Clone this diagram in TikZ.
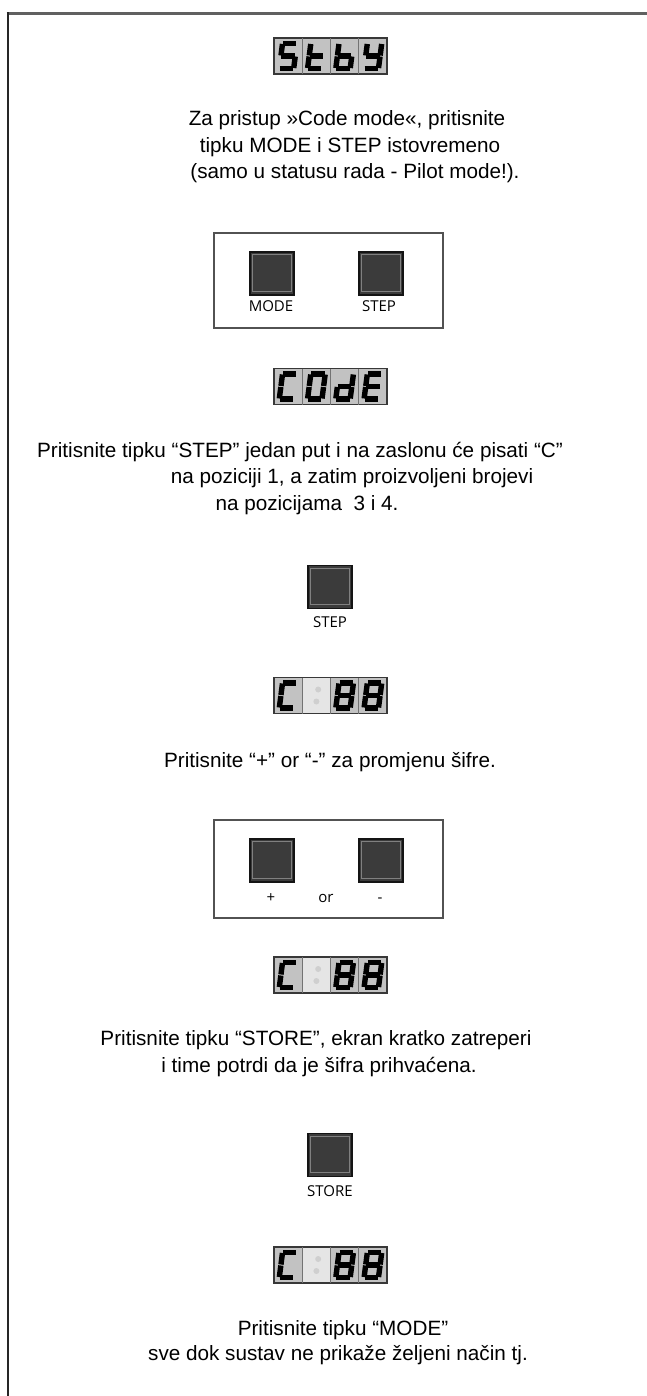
\documentclass[tikz,border=0pt]{standalone}
\usepackage{fontspec}
\setmainfont{Liberation Sans}
\newfontfamily\lblfont{Open Sans}
\def\sga{(-7.2,-12.5)--(7.2,-12.5)}
\def\sgb{(7.2,-12.5)--(7.2,0)}
\def\sgc{(7.2,0)--(7.2,12.5)}
\def\sgd{(-7.2,12.5)--(7.2,12.5)}
\def\sge{(-7.2,0)--(-7.2,12.5)}
\def\sgf{(-7.2,-12.5)--(-7.2,0)}
\def\sgg{(-7.2,0)--(7.2,0)}
\newcommand\lcdigit[3]{%
  \if\relax\detokenize{#3}\relax\else
  \begin{scope}[shift={(#1,#2)}, xslant=0.13]
    \foreach \s in {#3}{\edef\segp{\csname sg\s\endcsname}\draw[seg] \segp;}
  \end{scope}\fi}
\newcommand\lcd[6]{%
  \node[lcdbox] (#1) at (330.5,#2) {};
  \foreach \i in {1,2,3} {\draw[lcdcell] (274+\i*28.25,#2-18) -- (274+\i*28.25,#2+18);}
  \lcdigit{288.1}{#2}{#3}%
  \lcdigit{316.4}{#2}{#4}%
  \lcdigit{344.6}{#2}{#5}%
  \lcdigit{372.9}{#2}{#6}}
\newcommand\ghostcell[1]{%
  \fill[gray!20] (303,#1-17.2) rectangle (329.7,#1+17.2);
  \fill[gray!38] (318.2,#1-6) circle (3pt);
  \fill[gray!38] (316.4,#1+6) circle (3pt);}
\begin{document}
\begin{tikzpicture}[x=1pt,y=-1pt,
  txt/.style={inner sep=0pt, text height=15pt, text depth=4.5pt, font=\fontsize{20.7}{25}\selectfont},
  lbl/.style={inner sep=0pt, text height=11pt, text depth=3pt, font=\lblfont\fontsize{15}{18}\selectfont},
  btn/.style={draw=black!92, fill=black!77, line width=1.4pt, minimum width=44pt, minimum height=43pt, inner sep=0pt,
    path picture={\draw[black!50, line width=0.7pt] ([shift={(2.6pt,-2.6pt)}]path picture bounding box.north west) rectangle ([shift={(-2.6pt,4pt)}]path picture bounding box.south east);}},
  panel/.style={draw=black!68, line width=2.2pt, minimum width=229pt, minimum height=95pt, inner sep=0pt},
  lcdbox/.style={draw=black!78, line width=1.6pt, fill=gray!48, minimum width=113pt, minimum height=36pt, inner sep=0pt},
  lcdcell/.style={draw=black!55, line width=0.8pt},
  seg/.style={line width=5.4pt, line cap=butt, shorten >=0.5pt, shorten <=0.5pt, black}
]
\useasboundingbox (0,0) rectangle (647,1396);
\fill[white] (0,0) rectangle (647,1396);
% frame
\draw[line width=3pt, gray!75!black] (6.5,14) -- (647,14);
\draw[line width=2.5pt, black!85] (8,12.5) -- (8,1396);

% displays
\lcd{d1}{56}{a,f,g,c,d}{f,e,d,g}{f,e,d,c,g}{f,b,g,c,d}
\node[txt] (t1) at (347,120) {Za pristup »Code mode«, pritisnite};
\node[txt] (t2) at (350,147) {tipku MODE i STEP istovremeno};
\node[txt] (t3) at (355,173) {(samo u statusu rada - Pilot mode!).};

\node[panel] (p1) at (328.5,280.5) {};
\node[btn] (bmode) at (272,273.5) {};
\node[btn] (bstep) at (381,273.5) {};
\node[lbl] (lmode) at (271,308) {MODE};
\node[lbl] (lstep) at (379,308) {STEP};

\lcd{d2}{386.5}{a,f,e,d}{a,b,c,d,e,f}{b,c,d,e,g}{a,f,g,e,d}

\node[txt] (t4) at (300,452) {Pritisnite tipku “STEP” jedan put i na zaslonu će pisati “C”};
\node[txt] (t5) at (352,478) {na poziciji 1, a zatim proizvoljeni brojevi};
\node[txt] (t6) at (307,505) {na pozicijama \ 3 i 4.};

\node[btn] (bstep2) at (330,587) {};
\node[lbl] (lstep2) at (330,623) {STEP};

\lcd{d3}{695.5}{a,f,e,d}{}{a,b,c,d,e,f,g}{a,b,c,d,e,f,g}
\ghostcell{695.5}

\node[txt] (t7) at (330,762) {Pritisnite “+” or “-” za promjenu šifre.};

\node[panel, minimum height=98pt] (p2) at (328.5,869) {};
\node[btn] (bplus) at (272,860.5) {};
\node[btn] (bminus) at (381,860.5) {};
\node[lbl] (lplus) at (271,898) {+};
\node[lbl] (lor) at (326,898) {or};
\node[lbl] (lminus) at (380,898) {-};

\lcd{d4}{975}{a,f,e,d}{}{a,b,c,d,e,f,g}{a,b,c,d,e,f,g}
\ghostcell{975}

\node[txt] (t8) at (316,1040) {Pritisnite tipku “STORE”, ekran kratko zatreperi};
\node[txt] (t9) at (319,1067) {i time potrdi da je šifra prihvaćena.};

\node[btn] (bstore) at (330,1155) {};
\node[lbl] (lstore) at (330,1192) {STORE};

\lcd{d5}{1265}{a,f,e,d}{}{a,b,c,d,e,f,g}{a,b,c,d,e,f,g}
\ghostcell{1265}

\node[txt] (t10) at (343,1330) {Pritisnite tipku “MODE”};
\node[txt] (t11) at (338,1355) {sve dok sustav ne prikaže željeni način tj.};
\end{tikzpicture}
\end{document}
